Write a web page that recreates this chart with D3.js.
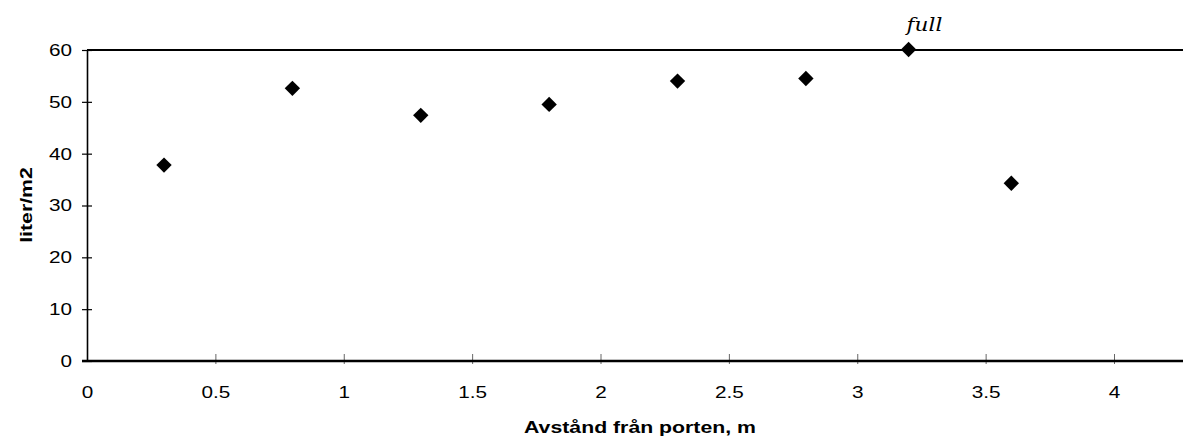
<!DOCTYPE html>
<html><head><meta charset="utf-8">
<script src="https://cdn.jsdelivr.net/npm/d3@7"></script>
<style>
html,body{margin:0;padding:0;background:#fff;}
svg{display:block;}
text{font-family:"Liberation Sans",Arial,sans-serif;fill:#000;}
</style></head>
<body>
<script>
const distance = [0.3, 0.8, 1.3, 1.8, 2.3, 2.8, 3.2, 3.6];
const literPerM2 = [37.8, 52.6, 47.4, 49.5, 54.0, 54.5, 60.1, 34.3];
const xTicks = [0, 0.5, 1, 1.5, 2, 2.5, 3, 3.5, 4];
const yTicks = [0, 10, 20, 30, 40, 50, 60];
const xTitle = "Avstånd från porten, m";
const yTitle = "liter/m2";
const annotation = "full";

const W = 1183, H = 438;
const svg = d3.select("body").append("svg").attr("width", W).attr("height", H);

const x = d3.scaleLinear().domain([0, 4.5]).range([87, 87 + 256.75 * 4.5]);
const y = d3.scaleLinear().domain([0, 60]).range([361, 50]);
const sx = 1.22;

// x axis ticks (crossing, light)
const xAxis = d3.axisBottom(x).tickValues(xTicks).tickSize(0).tickFormat(d => d3.format("")(d));
const gx = svg.append("g").attr("transform", `translate(0,${y(0)})`).call(xAxis);
gx.select(".domain").remove();
gx.selectAll(".tick text").attr("dy", null).attr("y", 37).style("font-size", "17px")
  .attr("transform", `scale(${sx},1)`);
gx.selectAll(".tick").filter(d => d > 0).append("line")
  .attr("y1", -7).attr("y2", 3).attr("stroke", "#666").attr("stroke-width", 1);

// y axis
const yAxis = d3.axisLeft(y).tickValues(yTicks).tickSizeInner(5).tickSizeOuter(0);
const gy = svg.append("g").attr("transform", `translate(${x(0)},0)`).call(yAxis);
gy.select(".domain").attr("stroke", "#000").attr("stroke-width", 1.6);
gy.selectAll(".tick line").attr("x1", 5).attr("x2", -5).attr("stroke", "#000").attr("stroke-width", 1.2);
gy.selectAll(".tick text").attr("x", -15 / sx).style("font-size", "17px")
  .attr("transform", `scale(${sx},1)`);

// top and bottom frame lines
svg.append("line").attr("x1", x(0)).attr("x2", W).attr("y1", y(60)).attr("y2", y(60))
  .attr("stroke", "#000").attr("stroke-width", 2.2);
svg.append("line").attr("x1", x(0) - 5).attr("x2", W).attr("y1", y(0)).attr("y2", y(0))
  .attr("stroke", "#000").attr("stroke-width", 2.6);

// points
const sym = d3.symbol(d3.symbolSquare, 118);
svg.append("g").selectAll("path").data(distance.map((d, i) => [d, literPerM2[i]]))
  .join("path")
  .attr("d", sym)
  .attr("transform", d => `translate(${x(d[0])},${y(d[1])}) rotate(45)`)
  .attr("fill", "#000");

// annotation
svg.append("text").attr("transform", `translate(${x(3.2) - 2},31) scale(1.2,1)`)
  .style("font-family", "'DejaVu Serif',serif").style("font-style", "italic")
  .style("font-size", "18px").text(annotation);

// titles
svg.append("text").attr("transform", `translate(640,433) scale(1.33,1)`).attr("text-anchor", "middle")
  .style("font-weight", "bold").style("font-size", "16px").text(xTitle);
svg.append("text").attr("transform", `translate(32,205) rotate(-90) scale(1.33,1)`).attr("text-anchor", "middle")
  .style("font-weight", "bold").style("font-size", "16px").text(yTitle);
</script>
</body></html>
